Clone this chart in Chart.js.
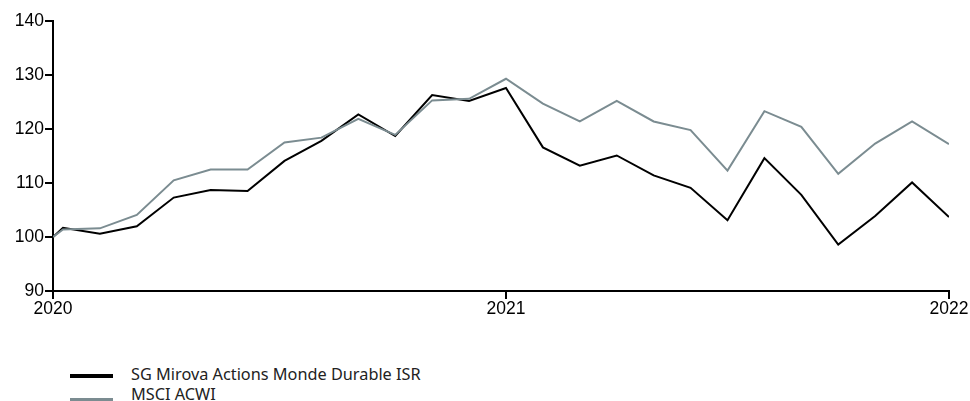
<!DOCTYPE html>
<html>
<head>
<meta charset="utf-8">
<script src="https://cdn.jsdelivr.net/npm/chart.js@4"></script>
<style>
  html, body { margin: 0; padding: 0; background: #fff; width: 970px; height: 401px; overflow: hidden; }
  #wrap { position: absolute; left: 0; top: 0; width: 970px; height: 330px; }
  #legend { position: absolute; left: 70px; top: 364px; font-family: "Noto Sans", sans-serif; font-size: 16.3px; color: #222; }
  .item { position: relative; height: 22px; line-height: 20px; }
  .sw { position: absolute; left: 0; width: 43px; height: 4px; }
  .lbl { position: absolute; left: 61px; top: 0; white-space: nowrap; }
</style>
</head>
<body>
<div id="wrap"><canvas id="c" width="970" height="330"></canvas></div>
<div id="legend"></div>
<script>
// x positions in months from the chart start (first point is the launch value)
const xMonths = [0, 0.27, 1.27, 2.27, 3.27, 4.27, 5.27, 6.27, 7.27, 8.27, 9.27, 10.27, 11.27, 12.27,
                 13.27, 14.27, 15.27, 16.27, 17.27, 18.27, 19.27, 20.27, 21.27, 22.27, 23.27, 24.27];
const fundValues = [100, 101.7, 100.6, 102.0, 107.3, 108.7, 108.5, 114.1, 117.8, 122.7, 118.7, 126.3, 125.2, 127.6,
                    116.6, 113.2, 115.1, 111.4, 109.1, 103.1, 114.6, 107.8, 98.6, 103.9, 110.1, 103.7];
const indexValues = [100, 101.4, 101.6, 104.1, 110.5, 112.5, 112.5, 117.5, 118.4, 121.9, 118.9, 125.3, 125.6, 129.3,
                     124.7, 121.4, 125.2, 121.4, 119.8, 112.3, 123.3, 120.4, 111.7, 117.3, 121.4, 117.2];
const seriesNames = ["SG Mirova Actions Monde Durable ISR", "MSCI ACWI"];
const seriesColors = ["#000000", "#7b8c91"];
const xTickValues = [0, 12.27, 24.27];
const xTickLabels = ["2020", "2021", "2022"];
const yTicks = [90, 100, 110, 120, 130, 140];

const toPts = vals => vals.map((v, i) => ({ x: xMonths[i], y: v }));

const tickFont = { family: "'Liberation Sans', Arial, sans-serif", size: 17.5 };

new Chart(document.getElementById('c'), {
  type: 'line',
  data: {
    datasets: [
      { label: seriesNames[1], data: toPts(indexValues), borderColor: seriesColors[1], borderWidth: 2, pointRadius: 0, tension: 0, fill: false },
      { label: seriesNames[0], data: toPts(fundValues), borderColor: seriesColors[0], borderWidth: 2, pointRadius: 0, tension: 0, fill: false }
    ]
  },
  options: {
    responsive: false,
    animation: false,
    events: [],
    layout: { padding: { left: 0, top: 21, right: 21, bottom: 0 } },
    plugins: { legend: { display: false }, tooltip: { enabled: false } },
    scales: {
      x: {
        type: 'linear',
        min: xTickValues[0],
        max: xTickValues[xTickValues.length - 1],
        afterBuildTicks: s => { s.ticks = xTickValues.map(v => ({ value: v })); },
        afterFit: s => { s.height = 39; },
        border: { display: true, color: '#000', width: 2 },
        grid: { display: true, drawOnChartArea: false, drawTicks: true, tickLength: 8, color: '#000', lineWidth: 2 },
        ticks: {
          autoSkip: false, maxRotation: 0, padding: 0, color: '#000', font: tickFont,
          callback: v => { const i = xTickValues.indexOf(v); return i >= 0 ? xTickLabels[i] : ''; }
        }
      },
      y: {
        min: yTicks[0],
        max: yTicks[yTicks.length - 1],
        afterBuildTicks: s => { s.ticks = yTicks.map(v => ({ value: v })); },
        afterFit: s => { s.width = 53; },
        border: { display: true, color: '#000', width: 2 },
        grid: { display: true, drawOnChartArea: false, drawTicks: true, tickLength: 8, color: '#000', lineWidth: 2 },
        ticks: { padding: 1, color: '#000', font: tickFont }
      }
    }
  }
});

const legend = document.getElementById('legend');
seriesNames.forEach((name, i) => {
  const item = document.createElement('div');
  item.className = 'item';
  const sw = document.createElement('div');
  sw.className = 'sw';
  sw.style.background = seriesColors[i];
  sw.style.top = (i === 0 ? 10 : 12) + 'px';
  const lbl = document.createElement('div');
  lbl.className = 'lbl';
  lbl.style.top = (i === 0 ? 0 : -2) + 'px';
  lbl.textContent = name;
  item.appendChild(sw);
  item.appendChild(lbl);
  legend.appendChild(item);
});
</script>
</body>
</html>
